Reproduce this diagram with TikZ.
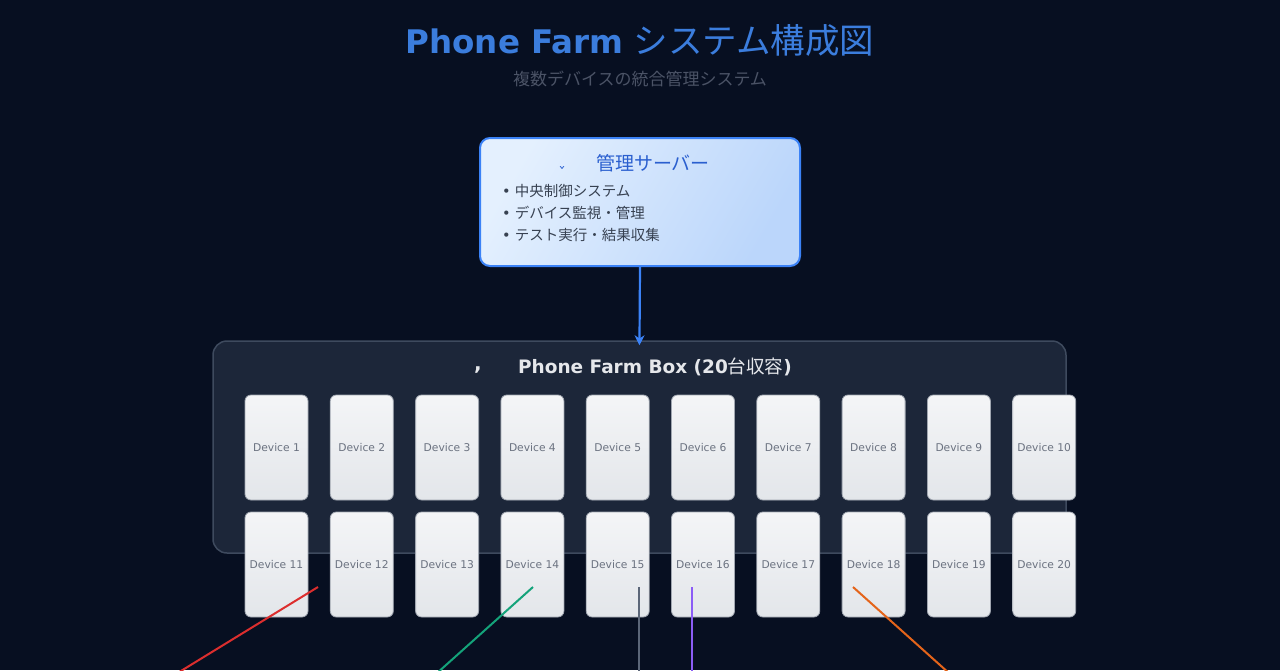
\documentclass[tikz,border=0pt]{standalone}
\usepackage{fontspec}
\setmainfont{DejaVu Sans}
\newfontfamily\jp{Noto Sans CJK JP}
\usetikzlibrary{arrows.meta}
\definecolor{bg}{HTML}{070F21}
\definecolor{titleblue}{HTML}{3B7DDD}
\definecolor{subgray}{HTML}{4B5366}
\definecolor{srvborder}{HTML}{3B82F6}
\definecolor{srvtitle}{HTML}{2A5FCF}
\definecolor{srvtext}{HTML}{374151}
\definecolor{srvlight}{HTML}{E4F0FE}
\definecolor{srvdark}{HTML}{BBD6FB}
\definecolor{boxfill}{HTML}{1C2639}
\definecolor{boxborder}{HTML}{3E4A5E}
\definecolor{boxtitle}{HTML}{E5E7EB}
\definecolor{devlight}{HTML}{F4F5F7}
\definecolor{devdark}{HTML}{E3E6EA}
\definecolor{devborder}{HTML}{A0A6B0}
\definecolor{devtext}{HTML}{6B7280}
\definecolor{lred}{HTML}{DC2E2E}
\definecolor{lgreen}{HTML}{14A37A}
\definecolor{lgray}{HTML}{5B6678}
\definecolor{lpurple}{HTML}{8B5CF6}
\definecolor{lorange}{HTML}{E4641A}
\tikzset{
  serverbox/.style={draw=srvborder, line width=2pt, rounded corners=10pt,
    left color=srvlight, right color=srvdark, shading angle=60,
    minimum width=320pt, minimum height=128pt, inner sep=0pt},
  farmbox/.style={draw=boxborder, fill=boxfill, line width=1.5pt, rounded corners=14pt,
    minimum width=853pt, minimum height=212pt, inner sep=0pt},
  devbox/.style={draw=devborder, line width=0.8pt, rounded corners=6pt,
    top color=devlight, bottom color=devdark,
    minimum width=63pt, minimum height=105pt, inner sep=0pt,
    font=\fontsize{10.7}{12}\selectfont, text=devtext},
  link/.style={line width=2pt},
  bulletline/.style={anchor=west, text=srvtext, font=\fontsize{14.5}{16}\selectfont, inner sep=0pt}
}
\begin{document}
\begin{tikzpicture}[x=1pt,y=-1pt]
\useasboundingbox (0,0) rectangle (1280,670);
\fill[bg] (0,0) rectangle (1280,670);
\clip (0,0) rectangle (1280,670);

% title
\node[text=titleblue, inner sep=0pt] (title) at (640,41)
  {\fontsize{32.5}{36}\selectfont{\bfseries Phone Farm} {\jp\mdseries\fontsize{34.5}{36}\selectfont システム構成図}};
\node[text=subgray, inner sep=0pt] (subtitle) at (640,79)
  {\jp\fontsize{17}{18}\selectfont 複数デバイスの統合管理システム};

% server
\node[serverbox] (server) at (640,202) {};
\node[text=srvtitle, inner sep=0pt] (srvtitle) at (653,163) {\jp\fontsize{19}{21}\selectfont 管理サーバー};
\node[text=srvtitle, inner sep=0pt, anchor=north] (srvmark) at (562,166) {\fontsize{15}{16}\selectfont ˇ};
\node[bulletline] (b1) at (502,191) {•\hspace{4pt}\jp 中央制御システム};
\node[bulletline] (b2) at (502,213) {•\hspace{4pt}\jp デバイス監視・管理};
\node[bulletline] (b3) at (502,235) {•\hspace{4pt}\jp テスト実行・結果収集};

% farm box
\node[farmbox] (farm) at (639.5,447) {};
\node[text=boxtitle, inner sep=0pt] (farmtitle) at (655,367)
  {\fontsize{18.5}{20}\selectfont\bfseries Phone Farm Box (20{\jp\mdseries 台収容})};
\node[text=boxtitle, inner sep=0pt] (farmmark) at (478,370) {\fontsize{20}{22}\selectfont\bfseries ,};

\draw[line width=2.2pt, draw=srvborder, -{Stealth[length=10pt,width=10pt]}, shorten >=-5pt] (server.south) -- (farm.north);

% devices
\foreach \i in {1,...,10}{
  \node[devbox] (d\i) at ({276.5+(\i-1)*85.3},447.5) {Device \i};
  \pgfmathtruncatemacro{\j}{\i+10}
  \node[devbox] (d\j) at ({276.5+(\i-1)*85.3},564.5) {Device \j};
}

% connectors leaving the picture
\coordinate (rs) at (318,587); \coordinate (re) at (176,674);
\coordinate (gs) at (533,587); \coordinate (ge) at (436,674);
\coordinate (ys) at (639,587); \coordinate (ye) at (639,674);
\coordinate (ps) at (692,587); \coordinate (pe) at (692,674);
\coordinate (os) at (853,587); \coordinate (oe) at (950,674);
\draw[link, lred] (rs) -- (re);
\draw[link, lgreen] (gs) -- (ge);
\draw[link, lgray] (ys) -- (ye);
\draw[link, lpurple] (ps) -- (pe);
\draw[link, lorange] (os) -- (oe);
\end{tikzpicture}
\end{document}
